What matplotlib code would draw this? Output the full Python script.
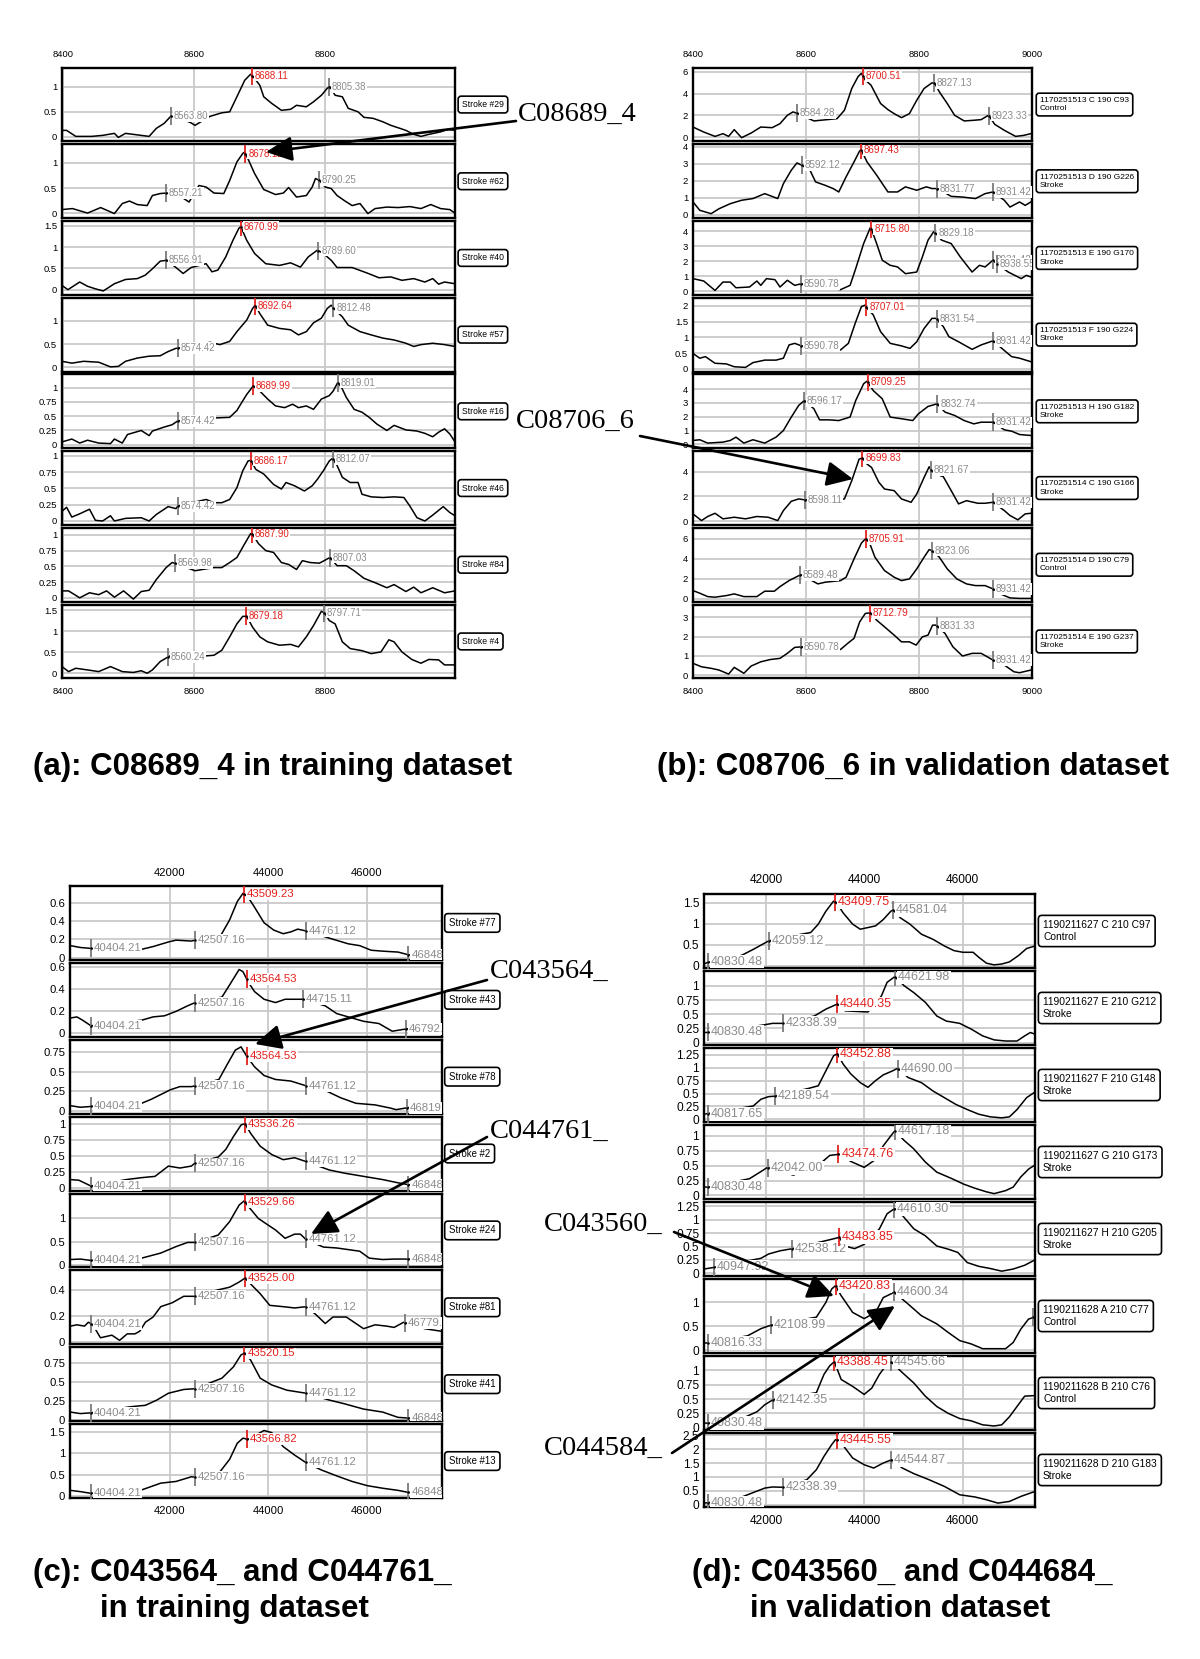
import numpy as np
import matplotlib
matplotlib.use("Agg")
import matplotlib.pyplot as plt
from matplotlib.patches import FancyArrowPatch

plt.rcParams['font.family'] = ['Liberation Sans', 'DejaVu Sans']

# ---------------- DATA: panel (a) ----------------
a1_mz = [8398, 8405, 8419, 8443, 8460, 8478, 8484, 8495, 8507, 8531, 8542, 8554, 8564, 8575, 8595, 8601, 8624, 8642, 8654, 8665, 8677, 8686, 8690, 8700, 8706, 8718, 8733, 8747, 8756, 8771, 8782, 8794, 8803, 8807, 8815, 8826, 8835, 8850, 8859, 8873, 8888, 8900, 8914, 8923, 8935, 8946, 8958, 8976, 8987, 8998]
a1_int = [0.13, 0.13, 0.01, 0.01, 0.03, 0.07, -0.01, 0.07, 0.05, 0.01, 0.17, 0.27, 0.41, 0.39, 0.28, 0.23, 0.41, 0.48, 0.5, 0.8, 1.13, 1.25, 1.2, 1.03, 0.8, 0.67, 0.53, 0.55, 0.63, 0.6, 0.7, 0.83, 0.97, 1.0, 0.83, 0.8, 0.57, 0.5, 0.39, 0.37, 0.3, 0.23, 0.17, 0.13, 0.05, 0.01, 0.05, 0.1, 0.15, 0.13]
a2_mz = [8398, 8414, 8437, 8457, 8478, 8490, 8501, 8513, 8528, 8536, 8548, 8558, 8577, 8592, 8607, 8618, 8630, 8645, 8654, 8665, 8674, 8677, 8683, 8692, 8706, 8724, 8736, 8744, 8756, 8771, 8780, 8785, 8791, 8800, 8809, 8818, 8829, 8841, 8853, 8865, 8876, 8894, 8911, 8929, 8946, 8961, 8976, 8990, 8998]
a2_int = [0.07, 0.09, 0.0, 0.11, -0.01, 0.19, 0.24, 0.17, 0.15, 0.35, 0.39, 0.4, 0.35, 0.22, 0.55, 0.52, 0.4, 0.39, 0.65, 1.02, 1.19, 1.22, 1.05, 0.79, 0.47, 0.37, 0.4, 0.51, 0.32, 0.35, 0.52, 0.69, 0.65, 0.52, 0.49, 0.35, 0.25, 0.15, 0.19, -0.01, 0.09, 0.12, 0.11, 0.13, 0.09, 0.17, 0.09, 0.07, 0.0]
a3_mz = [8398, 8407, 8425, 8437, 8449, 8461, 8478, 8495, 8513, 8525, 8536, 8548, 8558, 8572, 8583, 8595, 8618, 8627, 8636, 8648, 8659, 8668, 8671, 8680, 8692, 8709, 8730, 8747, 8762, 8774, 8788, 8797, 8809, 8818, 8841, 8864, 8882, 8900, 8917, 8935, 8952, 8964, 8973, 8982, 8998]
a3_int = [0.1, 0.0, 0.18, 0.08, 0.02, -0.03, 0.14, 0.24, 0.26, 0.34, 0.49, 0.67, 0.69, 0.52, 0.38, 0.52, 0.61, 0.42, 0.46, 0.77, 1.16, 1.44, 1.48, 1.16, 0.85, 0.61, 0.57, 0.63, 0.53, 0.77, 0.93, 0.85, 0.69, 0.52, 0.52, 0.39, 0.28, 0.3, 0.22, 0.26, 0.18, 0.26, 0.13, 0.18, 0.14]
a4_mz = [8398, 8413, 8431, 8454, 8472, 8484, 8495, 8513, 8531, 8548, 8560, 8572, 8595, 8624, 8639, 8654, 8665, 8680, 8689, 8693, 8700, 8712, 8730, 8747, 8759, 8771, 8782, 8794, 8803, 8809, 8815, 8826, 8835, 8853, 8870, 8888, 8905, 8923, 8935, 8946, 8964, 8982, 8998]
a4_int = [0.13, 0.09, 0.13, 0.11, 0.01, 0.02, 0.13, 0.2, 0.24, 0.25, 0.34, 0.41, 0.45, 0.54, 0.49, 0.56, 0.77, 1.02, 1.27, 1.34, 1.16, 0.91, 0.84, 0.81, 0.7, 0.77, 0.96, 1.06, 1.27, 1.34, 1.24, 1.09, 0.91, 0.77, 0.7, 0.63, 0.59, 0.52, 0.45, 0.49, 0.52, 0.49, 0.45]
a5_mz = [8398, 8413, 8425, 8437, 8454, 8472, 8478, 8490, 8498, 8519, 8531, 8536, 8554, 8566, 8575, 8607, 8633, 8654, 8665, 8674, 8680, 8690, 8700, 8712, 8724, 8738, 8750, 8759, 8771, 8782, 8794, 8806, 8812, 8819, 8825, 8832, 8844, 8856, 8867, 8879, 8894, 8905, 8923, 8940, 8952, 8964, 8973, 8982, 8990, 8998]
a5_int = [0.05, 0.1, 0.03, 0.08, 0.03, 0.02, 0.1, 0.03, 0.18, 0.25, 0.16, 0.24, 0.31, 0.35, 0.42, 0.43, 0.47, 0.48, 0.6, 0.77, 0.88, 1.03, 0.94, 0.8, 0.68, 0.65, 0.71, 0.65, 0.68, 0.62, 0.8, 0.86, 0.94, 1.09, 1.0, 0.83, 0.62, 0.57, 0.48, 0.36, 0.25, 0.34, 0.26, 0.24, 0.2, 0.14, 0.22, 0.28, 0.19, 0.05]
a6_mz = [8398, 8405, 8413, 8425, 8440, 8449, 8460, 8472, 8478, 8495, 8519, 8531, 8542, 8560, 8572, 8575, 8618, 8630, 8642, 8654, 8665, 8674, 8682, 8686, 8694, 8706, 8721, 8733, 8740, 8753, 8768, 8780, 8788, 8797, 8806, 8811, 8818, 8826, 8838, 8850, 8856, 8870, 8888, 8905, 8920, 8929, 8940, 8952, 8964, 8980, 8990, 8998]
a6_int = [0.15, 0.21, 0.06, 0.11, 0.18, 0.01, 0.0, 0.08, 0.0, 0.04, 0.05, 0.0, 0.1, 0.22, 0.19, 0.23, 0.33, 0.28, 0.28, 0.33, 0.51, 0.77, 0.92, 0.93, 0.79, 0.72, 0.56, 0.49, 0.59, 0.54, 0.46, 0.54, 0.64, 0.77, 0.92, 0.96, 0.85, 0.67, 0.59, 0.59, 0.41, 0.37, 0.36, 0.37, 0.36, 0.23, 0.05, 0.0, 0.09, 0.22, 0.13, 0.08]
a7_mz = [8398, 8408, 8425, 8440, 8454, 8466, 8478, 8492, 8507, 8519, 8531, 8542, 8557, 8566, 8570, 8601, 8630, 8642, 8654, 8665, 8677, 8686, 8690, 8698, 8709, 8721, 8733, 8744, 8756, 8765, 8777, 8791, 8800, 8807, 8818, 8832, 8844, 8859, 8876, 8894, 8905, 8923, 8935, 8946, 8964, 8982, 8998]
a7_int = [0.11, 0.11, 0.0, 0.08, 0.05, 0.11, 0.01, 0.11, -0.02, 0.1, 0.12, 0.29, 0.48, 0.56, 0.55, 0.43, 0.48, 0.48, 0.56, 0.64, 0.86, 1.02, 0.99, 0.86, 0.75, 0.72, 0.56, 0.53, 0.45, 0.59, 0.56, 0.55, 0.6, 0.64, 0.51, 0.51, 0.43, 0.31, 0.24, 0.16, 0.21, 0.1, 0.17, 0.08, 0.16, 0.08, 0.11]
a8_mz = [8398, 8408, 8419, 8437, 8454, 8472, 8490, 8507, 8519, 8528, 8536, 8548, 8560, 8572, 8613, 8630, 8642, 8654, 8665, 8674, 8680, 8689, 8700, 8712, 8730, 8747, 8759, 8771, 8782, 8794, 8799, 8806, 8815, 8826, 8838, 8856, 8870, 8885, 8897, 8905, 8917, 8932, 8946, 8958, 8973, 8982, 8998]
a8_int = [0.16, 0.04, 0.12, 0.08, 0.04, 0.16, 0.04, 0.02, 0.06, 0.0, 0.08, 0.28, 0.39, 0.49, 0.41, 0.43, 0.55, 0.87, 1.18, 1.36, 1.36, 1.1, 0.87, 0.75, 0.67, 0.69, 0.63, 0.87, 1.14, 1.48, 1.44, 1.26, 1.18, 0.75, 0.59, 0.54, 0.47, 0.51, 0.8, 0.75, 0.51, 0.33, 0.24, 0.33, 0.32, 0.2, 0.2]

a_ylims = [(-0.09, 1.38), (-0.1, 1.37), (-0.12, 1.61), (-0.09, 1.5), (-0.06, 1.23), (-0.06, 1.07), (-0.06, 1.11), (-0.12, 1.64)]
a_yticks = [[0, 0.5, 1], [0, 0.5, 1], [0, 0.5, 1, 1.5], [0, 0.5, 1], [0, 0.25, 0.5, 0.75, 1], [0, 0.25, 0.5, 0.75, 1], [0, 0.25, 0.5, 0.75, 1], [0, 0.5, 1, 1.5]]
a_peaks = [[(8563.80, 0), (8688.11, 1), (8805.38, 0)],
           [(8557.21, 0), (8678.12, 1), (8790.25, 0)],
           [(8556.91, 0), (8670.99, 1), (8789.60, 0)],
           [(8574.42, 0), (8692.64, 1), (8812.48, 0)],
           [(8574.42, 0), (8689.99, 1), (8819.01, 0)],
           [(8574.42, 0), (8686.17, 1), (8812.07, 0)],
           [(8569.98, 0), (8687.90, 1), (8807.03, 0)],
           [(8560.24, 0), (8679.18, 1), (8797.71, 0)]]
a_labels = ["Stroke #29", "Stroke #62", "Stroke #40", "Stroke #57", "Stroke #16", "Stroke #46", "Stroke #84", "Stroke #4"]
a_xticks = [8400, 8600, 8800]

# ---------------- DATA: panel (b) ----------------
b1_mz = [8400, 8419, 8439, 8453, 8463, 8473, 8486, 8503, 8520, 8540, 8554, 8567, 8577, 8586, 8614, 8655, 8668, 8681, 8692, 8698, 8705, 8715, 8732, 8745, 8756, 8769, 8783, 8796, 8809, 8823, 8828, 8836, 8850, 8863, 8880, 8897, 8910, 8923, 8934, 8951, 8971, 8985, 8998]
b1_int = [0.92, 0.46, 0.06, 0.31, 0.06, 0.68, -0.06, 0.37, 0.92, 0.86, 1.23, 2.0, 2.31, 2.15, 1.48, 1.69, 2.46, 4.46, 5.54, 5.85, 5.23, 4.77, 3.08, 2.52, 2.15, 1.78, 2.15, 3.38, 4.46, 4.98, 4.92, 4.15, 3.08, 2.0, 1.48, 1.54, 1.6, 2.0, 1.17, 0.62, 0.06, 0.15, 0.31]
b2_mz = [8400, 8412, 8432, 8446, 8466, 8486, 8506, 8527, 8550, 8560, 8574, 8584, 8592, 8607, 8617, 8634, 8648, 8658, 8671, 8685, 8695, 8698, 8708, 8725, 8745, 8762, 8776, 8796, 8813, 8823, 8833, 8857, 8877, 8900, 8917, 8931, 8951, 8961, 8978, 8988, 8998]
b2_int = [0.75, 0.26, 0.06, 0.35, 0.65, 0.85, 0.95, 1.24, 0.95, 1.83, 2.62, 3.05, 2.92, 2.62, 1.93, 1.73, 1.54, 1.34, 2.23, 3.11, 3.76, 3.8, 3.11, 2.33, 1.34, 1.34, 1.64, 1.44, 1.64, 1.54, 1.54, 1.08, 1.04, 0.95, 1.24, 1.34, 0.85, 0.45, 0.75, 0.55, 0.75]
b3_mz = [8400, 8419, 8439, 8453, 8466, 8476, 8500, 8513, 8520, 8530, 8545, 8554, 8567, 8580, 8592, 8661, 8678, 8688, 8702, 8714, 8716, 8725, 8735, 8749, 8762, 8776, 8796, 8806, 8816, 8826, 8830, 8840, 8857, 8873, 8894, 8907, 8917, 8931, 8937, 8958, 8981, 8990, 8998]
b3_int = [0.83, 0.67, 0.04, 0.6, 0.6, 0.22, 0.27, 0.67, 0.38, 0.83, 0.76, 0.27, 0.72, 0.38, 0.49, 0.09, 0.38, 1.5, 3.17, 4.25, 4.11, 3.17, 2.06, 1.72, 1.61, 1.16, 1.27, 2.28, 3.4, 3.96, 3.84, 3.4, 3.17, 2.28, 1.27, 1.72, 1.61, 2.06, 1.83, 1.27, 0.83, 1.05, 0.94]
b4_mz = [8400, 8412, 8422, 8439, 8459, 8473, 8493, 8506, 8527, 8547, 8560, 8570, 8580, 8592, 8661, 8675, 8687, 8698, 8705, 8708, 8719, 8732, 8749, 8769, 8784, 8796, 8809, 8823, 8830, 8843, 8853, 8870, 8894, 8910, 8931, 8950, 8964, 8978, 8998]
b4_int = [0.49, 0.34, 0.39, 0.18, 0.16, 0.07, 0.05, 0.2, 0.28, 0.28, 0.34, 0.76, 0.81, 0.73, 0.6, 0.81, 1.44, 1.97, 2.02, 1.92, 1.71, 1.18, 0.81, 0.73, 0.65, 0.86, 1.28, 1.6, 1.6, 1.34, 1.02, 0.86, 0.62, 0.76, 0.89, 0.6, 0.39, 0.34, 0.23]
b5_mz = [8400, 8412, 8426, 8453, 8466, 8476, 8490, 8506, 8527, 8547, 8560, 8574, 8587, 8597, 8614, 8624, 8641, 8658, 8678, 8688, 8702, 8708, 8719, 8735, 8749, 8769, 8789, 8799, 8816, 8832, 8846, 8863, 8880, 8897, 8910, 8931, 8951, 8964, 8978, 8998]
b5_int = [0.29, 0.34, 0.1, 0.17, 0.29, 0.53, 0.1, 0.34, 0.1, 0.53, 1.01, 1.98, 2.82, 3.18, 2.58, 1.78, 1.78, 1.73, 1.98, 3.18, 4.39, 4.58, 3.9, 3.3, 1.98, 1.86, 1.73, 2.22, 2.75, 2.94, 2.34, 2.1, 1.73, 1.49, 1.61, 1.61, 1.06, 0.96, 0.72, 0.65]
b6_mz = [8400, 8415, 8426, 8439, 8453, 8473, 8493, 8513, 8533, 8550, 8560, 8574, 8587, 8599, 8668, 8681, 8694, 8700, 8708, 8716, 8729, 8739, 8756, 8769, 8786, 8796, 8809, 8818, 8822, 8830, 8843, 8857, 8870, 8884, 8904, 8917, 8931, 8951, 8961, 8975, 8988, 8998]
b6_int = [0.59, 0.05, 0.38, 0.64, 0.19, 0.32, 0.19, 0.38, 0.32, 0.05, 0.86, 1.61, 1.8, 1.72, 1.8, 3.28, 5.02, 5.1, 4.62, 4.35, 3.14, 2.6, 2.47, 1.8, 1.53, 2.2, 3.54, 4.4, 4.08, 3.81, 3.6, 2.47, 1.4, 1.66, 1.45, 1.45, 1.53, 0.86, 0.46, 0.11, 0.59, 0.64]
b7_mz = [8400, 8412, 8426, 8439, 8459, 8473, 8490, 8513, 8527, 8544, 8554, 8570, 8584, 8591, 8621, 8634, 8661, 8671, 8685, 8698, 8705, 8712, 8722, 8739, 8756, 8769, 8783, 8796, 8809, 8818, 8823, 8836, 8850, 8867, 8884, 8900, 8917, 8931, 8944, 8961, 8978, 8998]
b7_int = [0.83, 0.57, 0.23, 0.17, 0.33, 0.5, 0.23, 0.23, 0.77, 0.77, 1.23, 1.83, 2.23, 2.43, 1.5, 1.67, 1.83, 2.17, 4.0, 5.57, 6.0, 5.67, 4.17, 2.83, 2.17, 1.83, 2.0, 3.0, 4.17, 4.93, 4.83, 4.17, 3.0, 2.0, 1.5, 1.33, 1.33, 1.0, 0.5, 0.1, 0.05, 0.05]
b8_mz = [8400, 8415, 8432, 8446, 8463, 8473, 8490, 8503, 8520, 8537, 8554, 8567, 8580, 8592, 8661, 8675, 8685, 8695, 8705, 8714, 8725, 8739, 8756, 8769, 8783, 8795, 8806, 8816, 8824, 8830, 8846, 8860, 8877, 8894, 8910, 8931, 8951, 8968, 8978, 8998]
b8_int = [0.61, 0.43, 0.35, 0.26, 0.05, 0.4, 0.09, 0.47, 0.69, 0.81, 0.87, 1.13, 1.44, 1.47, 1.33, 1.68, 1.91, 2.77, 3.21, 3.24, 2.86, 2.51, 2.08, 1.73, 1.73, 1.56, 1.99, 2.08, 2.6, 2.6, 2.17, 1.47, 0.99, 1.13, 1.13, 0.78, 0.52, 0.17, 0.12, 0.26]

b_ylims = [(-0.4, 6.37), (-0.2, 4.14), (-0.25, 4.67), (-0.08, 2.25), (-0.27, 5.06), (-0.3, 5.66), (-0.27, 7.1), (-0.17, 3.67)]
b_yticks = [[0, 2, 4, 6], [0, 1, 2, 3, 4], [0, 1, 2, 3, 4], [0, 0.5, 1, 1.5, 2], [0, 1, 2, 3, 4], [0, 2, 4], [0, 2, 4, 6], [0, 1, 2, 3]]
b_peaks = [[(8584.28, 0), (8700.51, 1), (8827.13, 0), (8923.33, 0)],
           [(8592.12, 0), (8697.43, 1), (8831.77, 0), (8931.42, 0)],
           [(8590.78, 0), (8715.80, 1), (8829.18, 0), (8931.42, 0), (8938.55, 0)],
           [(8590.78, 0), (8707.01, 1), (8831.54, 0), (8931.42, 0)],
           [(8596.17, 0), (8709.25, 1), (8832.74, 0), (8931.42, 0)],
           [(8598.11, 0), (8699.83, 1), (8821.67, 0), (8931.42, 0)],
           [(8589.48, 0), (8705.91, 1), (8823.06, 0), (8931.42, 0)],
           [(8590.78, 0), (8712.79, 1), (8831.33, 0), (8931.42, 0)]]
b_labels = ["1170251513 C 190 C93\nControl", "1170251513 D 190 G226\nStroke",
            "1170251513 E 190 G170\nStroke", "1170251513 F 190 G224\nStroke",
            "1170251513 H 190 G182\nStroke", "1170251514 C 190 G166\nStroke",
            "1170251514 D 190 C79\nControl", "1170251514 E 190 G237\nStroke"]
b_xticks = [8400, 8600, 8800, 9000]

# ---------------- DATA: panel (c) ----------------
c1_mz = [39990, 40190, 40404, 40889, 41433, 41666, 41977, 42132, 42443, 42520, 43049, 43219, 43375, 43491, 43592, 43724, 43918, 44113, 44307, 44462, 44602, 44773, 45316, 45627, 45860, 46093, 46326, 46637, 46854, 47103, 47520]
c1_int = [0.13, 0.11, 0.1, 0.07, 0.09, 0.12, 0.17, 0.19, 0.18, 0.19, 0.25, 0.41, 0.61, 0.7, 0.66, 0.55, 0.38, 0.3, 0.26, 0.28, 0.31, 0.29, 0.2, 0.15, 0.13, 0.08, 0.07, 0.06, 0.03, 0.01, 0.0]
c2_mz = [39990, 40120, 40236, 40404, 41433, 41666, 41899, 42132, 42365, 42520, 43064, 43219, 43413, 43491, 43592, 43724, 43918, 44151, 44346, 44540, 44711, 45161, 45394, 45627, 45938, 46249, 46520, 46792, 47103, 47520]
c2_int = [0.14, 0.15, 0.12, 0.07, 0.12, 0.15, 0.16, 0.2, 0.25, 0.28, 0.33, 0.44, 0.58, 0.56, 0.47, 0.38, 0.31, 0.28, 0.31, 0.31, 0.31, 0.25, 0.18, 0.15, 0.11, 0.09, 0.02, 0.04, 0.06, 0.04]
c3_mz = [39990, 40190, 40404, 41433, 41627, 41822, 42016, 42210, 42443, 42520, 43002, 43180, 43336, 43452, 43569, 43724, 43918, 44151, 44462, 44773, 45200, 45472, 45783, 46171, 46482, 46598, 46792, 47103, 47520]
c3_int = [0.07, 0.05, 0.06, 0.1, 0.15, 0.21, 0.27, 0.31, 0.31, 0.32, 0.4, 0.6, 0.77, 0.81, 0.69, 0.56, 0.45, 0.4, 0.38, 0.32, 0.25, 0.17, 0.1, 0.08, 0.04, 0.02, 0.04, 0.07, 0.06]
c4_mz = [39990, 40160, 40404, 41122, 41433, 41705, 41977, 42210, 42443, 42520, 42987, 43142, 43297, 43452, 43530, 43646, 43840, 44074, 44307, 44540, 44773, 45239, 45550, 45938, 46326, 46637, 46854, 47520]
c4_int = [0.13, 0.12, 0.03, 0.13, 0.16, 0.18, 0.34, 0.31, 0.34, 0.39, 0.48, 0.6, 0.8, 0.98, 1.0, 0.85, 0.65, 0.52, 0.44, 0.47, 0.41, 0.28, 0.23, 0.18, 0.13, 0.08, 0.05, 0.04]
c5_mz = [39990, 40190, 40404, 41433, 41822, 42132, 42365, 42520, 42987, 43219, 43413, 43514, 43608, 43802, 43996, 44151, 44346, 44540, 44656, 44773, 45122, 45394, 45860, 46054, 46326, 46559, 46854, 47520]
c5_int = [0.11, 0.12, 0.09, 0.14, 0.25, 0.39, 0.48, 0.48, 0.64, 0.93, 1.29, 1.38, 1.25, 1.0, 0.86, 0.75, 0.57, 0.66, 0.66, 0.54, 0.38, 0.36, 0.29, 0.14, 0.11, 0.12, 0.12, 0.09]
c6_mz = [39990, 40120, 40275, 40353, 40443, 40598, 40831, 40986, 41142, 41297, 41394, 41511, 41666, 41822, 42054, 42288, 42520, 42987, 43219, 43413, 43530, 43685, 43840, 44035, 44307, 44540, 44773, 44967, 45161, 45316, 45588, 45744, 45938, 46171, 46404, 46559, 46753, 47180, 47520]
c6_int = [0.12, 0.13, 0.12, 0.15, 0.13, 0.03, 0.05, 0.01, 0.06, 0.06, 0.08, 0.15, 0.19, 0.27, 0.3, 0.35, 0.35, 0.4, 0.42, 0.46, 0.49, 0.43, 0.37, 0.28, 0.27, 0.26, 0.27, 0.21, 0.14, 0.19, 0.19, 0.15, 0.1, 0.13, 0.12, 0.11, 0.15, 0.1, 0.08]
c7_mz = [39990, 40190, 40404, 41200, 41511, 41744, 41977, 42288, 42520, 43064, 43297, 43452, 43530, 43646, 43840, 44074, 44384, 44773, 45239, 45550, 45938, 46326, 46637, 46854, 47520]
c7_int = [0.1, 0.08, 0.09, 0.17, 0.19, 0.26, 0.35, 0.4, 0.41, 0.55, 0.7, 0.86, 0.88, 0.79, 0.55, 0.46, 0.39, 0.35, 0.26, 0.21, 0.14, 0.1, 0.03, 0.02, 0.03]
c8_mz = [39990, 40190, 40404, 41433, 41822, 42132, 42443, 42520, 43025, 43219, 43375, 43491, 43592, 43918, 44074, 44307, 44540, 44773, 45083, 45394, 45705, 46016, 46326, 46637, 46854, 47520]
c8_int = [0.13, 0.1, 0.06, 0.14, 0.3, 0.34, 0.45, 0.44, 0.57, 0.86, 1.24, 1.36, 1.33, 1.54, 1.49, 1.16, 0.96, 0.78, 0.61, 0.47, 0.34, 0.24, 0.18, 0.13, 0.08, 0.05]

c_ylims = [(-0.025, 0.78), (-0.03, 0.64), (-0.03, 0.9), (-0.04, 1.11), (-0.06, 1.54), (-0.02, 0.55), (-0.02, 0.96), (-0.05, 1.69)]
c_yticks = [[0, 0.2, 0.4, 0.6], [0, 0.2, 0.4, 0.6], [0, 0.25, 0.5, 0.75], [0, 0.25, 0.5, 0.75, 1], [0, 0.5, 1], [0, 0.2, 0.4], [0, 0.25, 0.5, 0.75], [0, 0.5, 1, 1.5]]
c_peaks = [[(40404.21, 0), (42507.16, 0), (43509.23, 1), (44761.12, 0), (46848.35, 0)],
           [(40404.21, 0), (42507.16, 0), (43564.53, 1), (44715.11, 0), (46792.40, 0)],
           [(40404.21, 0), (42507.16, 0), (43564.53, 1), (44761.12, 0), (46819.27, 0)],
           [(40404.21, 0), (42507.16, 0), (43536.26, 1), (44761.12, 0), (46848.35, 0)],
           [(40404.21, 0), (42507.16, 0), (43529.66, 1), (44761.12, 0), (46848.35, 0)],
           [(40404.21, 0), (42507.16, 0), (43525.00, 1), (44761.12, 0), (46779.30, 0)],
           [(40404.21, 0), (42507.16, 0), (43520.15, 1), (44761.12, 0), (46848.35, 0)],
           [(40404.21, 0), (42507.16, 0), (43566.82, 1), (44761.12, 0), (46848.35, 0)]]
c_labels = ["Stroke #77", "Stroke #43", "Stroke #78", "Stroke #2", "Stroke #24", "Stroke #81", "Stroke #41", "Stroke #13"]
c_xticks = [42000, 44000, 46000]

# ---------------- DATA: panel (d) ----------------
d1_mz = [40742, 40838, 40970, 41511, 41744, 41899, 42054, 42365, 42715, 42909, 43064, 43219, 43375, 43437, 43569, 43763, 43918, 44074, 44229, 44384, 44540, 44586, 44734, 44928, 45161, 45394, 45627, 45821, 46000, 46210, 46326, 46482, 46637, 46792, 46948, 47142, 47297, 47468]
d1_int = [0.04, 0.09, 0.08, 0.25, 0.39, 0.49, 0.59, 0.67, 0.75, 0.79, 0.99, 1.3, 1.54, 1.5, 1.26, 0.99, 0.87, 0.91, 0.95, 1.1, 1.3, 1.33, 1.14, 0.99, 0.75, 0.63, 0.47, 0.36, 0.32, 0.32, 0.2, 0.06, 0.02, 0.04, 0.09, 0.25, 0.41, 0.47]
d2_mz = [40742, 40838, 41938, 42132, 42326, 42986, 43219, 43452, 43608, 44074, 44346, 44462, 44617, 44811, 45005, 45239, 45472, 45666, 45938, 46171, 46404, 46637, 46870, 47103, 47258, 47375, 47468]
d2_int = [0.18, 0.18, 0.31, 0.34, 0.34, 0.47, 0.59, 0.68, 0.56, 0.54, 0.82, 1.06, 1.16, 1.0, 0.88, 0.71, 0.47, 0.38, 0.34, 0.24, 0.12, 0.05, 0.03, 0.03, 0.12, 0.18, 0.15]
d3_mz = [40742, 40796, 41744, 41899, 42054, 42194, 42870, 43064, 43219, 43375, 43452, 43569, 43724, 43918, 44074, 44229, 44384, 44578, 44680, 44889, 45161, 45394, 45627, 45860, 46093, 46326, 46559, 46792, 46948, 47103, 47297, 47468]
d3_int = [0.1, 0.11, 0.26, 0.39, 0.44, 0.45, 0.6, 0.65, 0.94, 1.23, 1.27, 1.07, 0.88, 0.71, 0.62, 0.75, 0.86, 0.94, 0.99, 0.81, 0.71, 0.55, 0.42, 0.29, 0.19, 0.1, 0.05, 0.03, 0.05, 0.19, 0.42, 0.53]
d4_mz = [40742, 40838, 41666, 41822, 41938, 42031, 42559, 43142, 43297, 43491, 43724, 43996, 44190, 44384, 44540, 44617, 44811, 45005, 45239, 45472, 45783, 46016, 46249, 46482, 46637, 46870, 47025, 47180, 47336, 47468]
d4_int = [0.14, 0.14, 0.28, 0.36, 0.42, 0.47, 0.34, 0.56, 0.67, 0.69, 0.57, 0.47, 0.58, 0.83, 1.0, 1.08, 0.92, 0.78, 0.56, 0.39, 0.28, 0.19, 0.12, 0.06, 0.03, 0.08, 0.14, 0.31, 0.44, 0.51]
d5_mz = [40742, 40944, 41899, 42054, 42287, 42538, 43359, 43491, 43608, 43802, 43996, 44307, 44462, 44617, 44773, 45005, 45239, 45472, 45705, 45899, 46093, 46326, 46559, 46792, 47025, 47258, 47468]
d5_int = [0.08, 0.11, 0.28, 0.36, 0.42, 0.46, 0.64, 0.67, 0.51, 0.46, 0.54, 0.83, 1.11, 1.21, 1.08, 0.83, 0.7, 0.51, 0.45, 0.39, 0.2, 0.13, 0.09, 0.04, 0.08, 0.15, 0.25]
d6_mz = [40742, 40796, 41627, 41899, 42093, 43025, 43219, 43336, 43413, 43530, 43763, 43996, 44229, 44384, 44602, 44851, 45161, 45472, 45705, 45938, 46171, 46404, 46637, 46870, 47025, 47180, 47336, 47453]
d6_int = [0.15, 0.15, 0.3, 0.45, 0.52, 0.69, 1.0, 1.28, 1.35, 1.14, 0.79, 0.66, 0.79, 1.1, 1.21, 1.0, 0.72, 0.55, 0.37, 0.2, 0.13, 0.03, 0.03, 0.03, 0.16, 0.44, 0.65, 0.69]
d7_mz = [40742, 40838, 41589, 41822, 41977, 42148, 43025, 43180, 43297, 43390, 43530, 43763, 43996, 44151, 44307, 44462, 44555, 44773, 45005, 45239, 45472, 45705, 45938, 46171, 46404, 46637, 46792, 46948, 47103, 47258, 47468]
d7_int = [0.08, 0.08, 0.19, 0.28, 0.4, 0.49, 0.61, 0.93, 1.08, 1.15, 0.84, 0.72, 0.58, 0.69, 0.93, 1.11, 1.14, 0.96, 0.78, 0.55, 0.37, 0.25, 0.16, 0.12, 0.05, 0.03, 0.05, 0.19, 0.37, 0.55, 0.56]
d8_mz = [40742, 40838, 41511, 41744, 41977, 42132, 42326, 42831, 43025, 43180, 43336, 43414, 43491, 43608, 43763, 43996, 44190, 44384, 44555, 44773, 45005, 45316, 45627, 45938, 46249, 46482, 46715, 46948, 47180, 47468]
d8_int = [0.06, 0.08, 0.28, 0.44, 0.6, 0.64, 0.63, 0.9, 1.26, 1.74, 2.16, 2.34, 2.32, 2.04, 1.68, 1.44, 1.32, 1.5, 1.62, 1.32, 1.12, 0.9, 0.66, 0.36, 0.28, 0.18, 0.06, 0.12, 0.3, 0.48]

d_ylims = [(-0.055, 1.71), (-0.04, 1.26), (-0.05, 1.38), (-0.06, 1.18), (-0.05, 1.33), (-0.06, 1.49), (-0.04, 1.25), (-0.08, 2.58)]
d_yticks = [[0, 0.5, 1, 1.5], [0, 0.25, 0.5, 0.75, 1], [0, 0.25, 0.5, 0.75, 1, 1.25], [0, 0.25, 0.5, 0.75, 1], [0, 0.25, 0.5, 0.75, 1, 1.25], [0, 0.5, 1], [0, 0.25, 0.5, 0.75, 1], [0, 0.5, 1, 1.5, 2, 2.5]]
d_peaks = [[(40830.48, 0), (42059.12, 0), (43409.75, 1), (44581.04, 0)],
           [(40830.48, 0), (42338.39, 0), (43440.35, 1), (44621.98, 0)],
           [(40817.65, 0), (42189.54, 0), (43452.88, 1), (44690.00, 0)],
           [(40830.48, 0), (42042.00, 0), (43474.76, 1), (44617.18, 0)],
           [(40947.92, 0), (42538.12, 0), (43483.85, 1), (44610.30, 0)],
           [(40816.33, 0), (42108.99, 0), (43420.83, 1), (44600.34, 0), (47437.20, 0)],
           [(40830.48, 0), (42142.35, 0), (43388.45, 1), (44545.66, 0)],
           [(40830.48, 0), (42338.39, 0), (43445.55, 1), (44544.87, 0)]]
d_labels = ["1190211627 C 210 C97\nControl", "1190211627 E 210 G212\nStroke",
            "1190211627 F 210 G148\nStroke", "1190211627 G 210 G173\nStroke",
            "1190211627 H 210 G205\nStroke", "1190211628 A 210 C77\nControl",
            "1190211628 B 210 C76\nControl", "1190211628 D 210 G183\nStroke"]
d_xticks = [42000, 44000, 46000]

captions = ["(a): C08689_4 in training dataset",
            "(b): C08706_6 in validation dataset",
            "(c): C043564_ and C044761_",
            "in training dataset",
            "(d): C043560_ and C044684_",
            "in validation dataset"]
callouts = ["C08689_4", "C08706_6", "C043564_", "C044761_", "C043560_", "C044584_"]

# ---------------- DRAWING ----------------
W, H = 1200, 1659
fig = plt.figure(figsize=(W / 100, H / 100), dpi=100)
fig.patch.set_facecolor('white')

RED = '#e3211c'
GRAY_TXT = '#8c8c8c'
GRAY_LINE = '#7a7a7a'


def fx(px):
    return px / W


def fy(py):
    return 1 - py / H


def ytick_fmt(v):
    return ('%g' % v)


def panel(left, right, top, bottom, xlim, xticks, curves, ylims, yticks, peaks, labels, box_x,
          tick_fs, peak_fs, box_fs):
    n = len(curves)
    gap = 3.0
    h = (bottom - top - gap * (n - 1)) / n
    span = xlim[1] - xlim[0]
    for i, (mz, inten) in enumerate(curves):
        t = top + i * (h + gap)
        ax = fig.add_axes([fx(left), fy(t + h), (right - left) / W, h / H])
        ax.set_xlim(*xlim)
        ax.set_ylim(*ylims[i])
        ax.set_xticks(xticks)
        ax.set_yticks(yticks[i])
        ax.set_yticklabels([ytick_fmt(v) for v in yticks[i]])
        ax.grid(True, color='#c9c9c9', lw=1.3)
        ax.set_axisbelow(True)
        for s in ax.spines.values():
            s.set_linewidth(1.7)
            s.set_color('black')
        ax.tick_params(axis='both', length=0, labelsize=tick_fs, colors='black')
        ax.tick_params(axis='y', pad=3.5)
        ax.tick_params(axis='x', pad=6.0, labeltop=(i == 0), labelbottom=(i == n - 1))
        ax.plot(mz, inten, color='black', lw=1.1, zorder=2, clip_on=True)
        for pm, main in peaks[i]:
            yv = float(np.interp(pm, mz, inten))
            lc = RED if main else GRAY_LINE
            tc = RED if main else GRAY_TXT
            if pm < xlim[1] - 0.01 * span:
                ax.annotate('%.2f' % pm, (pm, yv), xytext=(2.0, 0), textcoords='offset points',
                            va='center', ha='left', fontsize=peak_fs, color=tc, zorder=3,
                            bbox=dict(boxstyle='square,pad=0.08', fc='white', ec='none'),
                            clip_on=True, annotation_clip=False)
            ax.plot([pm], [yv], marker='|', ms=13, mew=1.3, color=lc, zorder=4, clip_on=True)
            ax.plot([pm], [yv], marker='o', ms=1.8, color='black', mew=0, zorder=5)
        fig.text(fx(box_x), fy(t + h / 2), labels[i], fontsize=box_fs, ha='left', va='center',
                 linespacing=1.25,
                 bbox=dict(boxstyle='round,pad=0.45,rounding_size=0.35', fc='white', ec='black', lw=1.2))


panel(62, 455, 67.7, 678.3, (8398, 8998), a_xticks,
      [(a1_mz, a1_int), (a2_mz, a2_int), (a3_mz, a3_int), (a4_mz, a4_int),
       (a5_mz, a5_int), (a6_mz, a6_int), (a7_mz, a7_int), (a8_mz, a8_int)],
      a_ylims, a_yticks, a_peaks, a_labels, 462, 6.8, 6.9, 6.2)
panel(693, 1032, 67.7, 678.3, (8400, 9000), b_xticks,
      [(b1_mz, b1_int), (b2_mz, b2_int), (b3_mz, b3_int), (b4_mz, b4_int),
       (b5_mz, b5_int), (b6_mz, b6_int), (b7_mz, b7_int), (b8_mz, b8_int)],
      b_ylims, b_yticks, b_peaks, b_labels, 1040, 6.8, 7.1, 6.0)
panel(70, 442, 886, 1498, (39980, 47530), c_xticks,
      [(c1_mz, c1_int), (c2_mz, c2_int), (c3_mz, c3_int), (c4_mz, c4_int),
       (c5_mz, c5_int), (c6_mz, c6_int), (c7_mz, c7_int), (c8_mz, c8_int)],
      c_ylims, c_yticks, c_peaks, c_labels, 449, 8.1, 8.2, 6.9)
panel(704, 1035, 894, 1507, (40742, 47468), d_xticks,
      [(d1_mz, d1_int), (d2_mz, d2_int), (d3_mz, d3_int), (d4_mz, d4_int),
       (d5_mz, d5_int), (d6_mz, d6_int), (d7_mz, d7_int), (d8_mz, d8_int)],
      d_ylims, d_yticks, d_peaks, d_labels, 1043, 8.6, 9.0, 7.4)

# callout texts with arrows (pixel coordinates)
call_pos = [(518, 114), (516, 421), (490, 971), (490, 1131), (544, 1224), (544, 1448)]
arrows = [((516, 121), (266, 152)), ((640, 436), (853, 479)), ((487, 980), (255, 1044)),
          ((487, 1137), (311, 1234)), ((674, 1232), (834, 1296)), ((672, 1453), (895, 1306))]
for txt, (px, py) in zip(callouts, call_pos):
    fig.text(fx(px), fy(py), txt, fontsize=20.5, family=['Liberation Serif', 'DejaVu Serif'],
             ha='left', va='center', zorder=10)
for (p0, p1) in arrows:
    arr = FancyArrowPatch((fx(p0[0]), fy(p0[1])), (fx(p1[0]), fy(p1[1])),
                          transform=fig.transFigure, arrowstyle='-|>,head_length=0.8,head_width=0.38',
                          mutation_scale=20, lw=1.9, color='black', shrinkA=0, shrinkB=0, zorder=10)
    fig.add_artist(arr)

cap_pos = [(33, 767), (657, 767), (33, 1573), (100, 1609), (692, 1573), (750, 1609)]
for txt, (px, py) in zip(captions, cap_pos):
    fig.text(fx(px), fy(py), txt, fontsize=22.5, fontweight='bold', ha='left', va='center')

fig.savefig('out.png', dpi=100, facecolor='white')
